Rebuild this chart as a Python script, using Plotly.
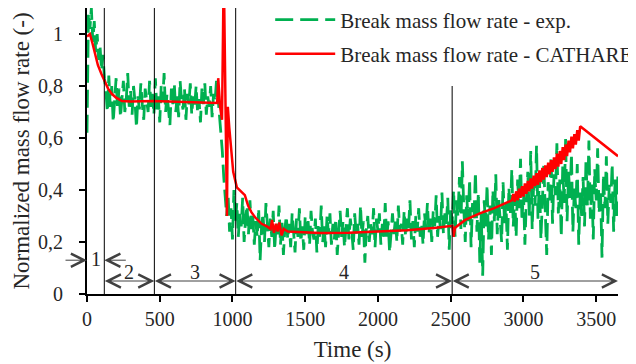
import plotly.graph_objects as go

# ---------------- data ----------------
# experimental break mass flow rate (normalized), sampled every 10 s, per segment
exp_step = 10
exp_seg_starts = [0, 130, 910, 970, 1110, 2510]
exp_seg1 = [0.62, 1.08, 1.02, 1.10, 0.97, 1.05, 0.93, 1.00, 0.90, 0.95, 0.86, 0.92, 0.83]
exp_seg2 = [0.78, 0.70, 0.84, 0.72, 0.80, 0.66, 0.76, 0.83, 0.71, 0.79, 0.68, 0.77, 0.82, 0.70, 0.75,
            0.85, 0.72, 0.78, 0.69, 0.80, 0.74, 0.64, 0.76, 0.71, 0.81, 0.73, 0.67, 0.79, 0.74, 0.70,
            0.82, 0.72, 0.77, 0.69, 0.83, 0.71, 0.76, 0.66, 0.80, 0.74, 0.85, 0.70, 0.77, 0.72, 0.65,
            0.79, 0.73, 0.81, 0.70, 0.76, 0.68, 0.82, 0.74, 0.71, 0.79, 0.67, 0.77, 0.73, 0.81, 0.69,
            0.76, 0.72, 0.80, 0.70, 0.75, 0.66, 0.79, 0.73, 0.81, 0.69, 0.76, 0.72, 0.80, 0.68, 0.77,
            0.74, 0.82, 0.76]
exp_seg3 = [0.70, 0.62, 0.55, 0.45, 0.36, 0.30]
exp_seg4 = [0.38, 0.24, 0.33, 0.21, 0.40, 0.27, 0.35, 0.22, 0.31, 0.26, 0.37, 0.20, 0.29, 0.34]
exp_seg5 = [0.23, 0.36, 0.25, 0.30, 0.19, 0.28, 0.22, 0.33, 0.13, 0.26, 0.31, 0.20, 0.35, 0.24, 0.18,
            0.29, 0.22, 0.32, 0.17, 0.27, 0.23, 0.34, 0.19, 0.28, 0.15, 0.25, 0.30, 0.21, 0.27, 0.18,
            0.31, 0.24, 0.16, 0.29, 0.22, 0.33, 0.20, 0.26, 0.17, 0.30, 0.23, 0.28, 0.19, 0.32, 0.24,
            0.21, 0.29, 0.16, 0.27, 0.22, 0.34, 0.20, 0.26, 0.18, 0.30, 0.23, 0.31, 0.19, 0.27, 0.21,
            0.29, 0.15, 0.25, 0.32, 0.22, 0.28, 0.18, 0.26, 0.33, 0.21, 0.29, 0.24, 0.17, 0.31, 0.23,
            0.27, 0.19, 0.34, 0.22, 0.28, 0.12, 0.25, 0.30, 0.20, 0.27, 0.23, 0.33, 0.18, 0.29, 0.24,
            0.31, 0.19, 0.27, 0.22, 0.35, 0.21, 0.28, 0.16, 0.26, 0.31, 0.23, 0.29, 0.20, 0.34, 0.24,
            0.27, 0.19, 0.32, 0.22, 0.29, 0.25, 0.36, 0.21, 0.28, 0.18, 0.30, 0.24, 0.33, 0.22, 0.27,
            0.19, 0.31, 0.25, 0.35, 0.23, 0.29, 0.20, 0.32, 0.26, 0.38, 0.22, 0.30, 0.25, 0.39, 0.23,
            0.31, 0.27, 0.37, 0.17, 0.33]
exp_seg6 = [0.27, 0.40, 0.22, 0.36, 0.30, 0.45, 0.25, 0.51, 0.33, 0.20, 0.38, 0.28, 0.44, 0.18, 0.35,
            0.29, 0.47, 0.24, 0.39, 0.12, 0.31, 0.07, 0.36, 0.26, 0.42, 0.21, 0.34, 0.15, 0.40, 0.28,
            0.46, 0.23, 0.37, 0.30, 0.20, 0.43, 0.27, 0.35, 0.17, 0.41, 0.31, 0.48, 0.26, 0.38, 0.22,
            0.44, 0.33, 0.52, 0.28, 0.40, 0.19, 0.36, 0.47, 0.30, 0.55, 0.25, 0.42, 0.34, 0.57, 0.29,
            0.45, 0.21, 0.39, 0.50, 0.32, 0.15, 0.43, 0.36, 0.53, 0.27, 0.46, 0.38, 0.58, 0.31, 0.44,
            0.22, 0.49, 0.35, 0.60, 0.28, 0.47, 0.37, 0.54, 0.24, 0.41, 0.33, 0.50, 0.19, 0.39, 0.30,
            0.45, 0.26, 0.52, 0.34, 0.59, 0.29, 0.43, 0.21, 0.48, 0.36, 0.56, 0.31, 0.40, 0.14, 0.46,
            0.33, 0.53, 0.27, 0.42, 0.35, 0.50, 0.24, 0.44, 0.30, 0.47]
exp_segments = [exp_seg1, exp_seg2, exp_seg3, exp_seg4, exp_seg5, exp_seg6]

# CATHARE calculation
cathare_time = [0, 20, 35, 55, 75, 100, 124, 145, 170, 200, 240, 300, 450, 675, 895, 902, 915, 928,
                940, 962, 968, 978, 990, 1005, 1030, 1050, 1070, 1085, 1107, 1130, 1155, 1200, 1237,
                1262, 1272, 1285, 1298, 1310, 1322, 1338, 1352, 1380, 1450, 1600, 1800, 2000, 2200,
                2400, 2500, 2512, 2520, 2530, 2600, 2700, 2800, 2900,
                2920, 2930, 2940, 2950, 2960, 2970, 2980, 2990, 3000, 3010, 3020, 3030, 3040, 3050,
                3060, 3070, 3080, 3090, 3100, 3110, 3120, 3130, 3140, 3150, 3160, 3170, 3180, 3190,
                3200, 3210, 3220, 3230, 3240, 3250, 3260, 3270, 3280, 3290, 3300, 3310, 3320, 3330,
                3340, 3350, 3360, 3370, 3380, 3390, 3650]
cathare_value = [0.99, 1.0, 0.97, 0.925, 0.88, 0.845, 0.815, 0.79, 0.77, 0.755, 0.742, 0.74, 0.742,
                 0.738, 0.735, 0.83, 0.72, 0.67, 1.25, 0.30, 0.72, 0.64, 0.56, 0.47, 0.41, 0.40, 0.39,
                 0.38, 0.34, 0.315, 0.295, 0.27, 0.26, 0.25, 0.285, 0.235, 0.27, 0.24, 0.275, 0.225,
                 0.25, 0.24, 0.238, 0.235, 0.236, 0.24, 0.245, 0.255, 0.26, 0.262, 0.22, 0.255, 0.285,
                 0.31, 0.33, 0.355,
                 0.36, 0.385, 0.355, 0.395, 0.36, 0.405, 0.37, 0.415, 0.375, 0.425, 0.385, 0.435,
                 0.395, 0.445, 0.405, 0.455, 0.415, 0.465, 0.42, 0.475, 0.43, 0.485, 0.44, 0.495,
                 0.45, 0.505, 0.46, 0.515, 0.47, 0.525, 0.48, 0.54, 0.49, 0.55, 0.50, 0.565, 0.515,
                 0.575, 0.53, 0.59, 0.545, 0.605, 0.56, 0.615, 0.575, 0.63, 0.59, 0.645, 0.53]

# test phases
phase_bounds = [0, 119, 463, 1022, 2510, 3650]
phase_labels = ["1", "2", "3", "4", "5"]
phase_line_tops = [1.1, 1.1, 1.1, 0.8]

# ---------------- figure ----------------
FONT = "Liberation Serif, Times New Roman, serif"
TXT = "#262626"

exp_time, exp_value = [], []
for start, vals in zip(exp_seg_starts, exp_segments):
    for i, v in enumerate(vals):
        exp_time.append(start + exp_step * i)
        exp_value.append(v)

fig = go.Figure()
fig.add_trace(go.Scatter(
    x=exp_time, y=exp_value, mode="lines", name="Break mass flow rate - exp.",
    line=dict(color="#00B050", width=2.8, dash="18px,7px"), legendgroup="a",
))
fig.add_trace(go.Scatter(
    x=cathare_time, y=cathare_value, mode="lines", name="Break mass flow rate - CATHARE",
    line=dict(color="#FF0000", width=2.5), legendgroup="b",
))

# phase boundary lines
for b, top in zip(phase_bounds[1:5], phase_line_tops):
    fig.add_shape(type="line", xref="x", yref="y", x0=b, x1=b, y0=0, y1=top,
                  line=dict(color="#000000", width=1), layer="above")

arrow_common = dict(text="", showarrow=True, arrowcolor="#404040", arrowwidth=1,
                    arrowhead=5, arrowsize=2.6, font=dict(size=1), borderpad=0)

# phase 1: arrows pointing inwards from outside
fig.add_annotation(x=phase_bounds[0], y=0.13, xref="x", yref="y", ax=-22, ay=0, **arrow_common)
fig.add_annotation(x=phase_bounds[1], y=0.13, xref="x", yref="y", ax=22, ay=0, **arrow_common)
fig.add_annotation(x=(phase_bounds[0] + phase_bounds[1]) / 2, y=0.135, xref="x", yref="y",
                   text=phase_labels[0], showarrow=False,
                   font=dict(family=FONT, size=20, color=TXT))

# phases 2..5: double arrows
for k in range(1, 5):
    x0, x1 = phase_bounds[k], phase_bounds[k + 1]
    fig.add_annotation(x=x1, y=0.05, ax=x0, ay=0.05, xref="x", yref="y", axref="x", ayref="y",
                       arrowside="end+start", startarrowhead=5, startarrowsize=2.6,
                       **arrow_common)
    fig.add_annotation(x=(x0 + x1) / 2, y=0.085, xref="x", yref="y", text=phase_labels[k],
                       showarrow=False, font=dict(family=FONT, size=20, color=TXT))

# the page body adds an 8 px offset; the figure is sized so the plot lands where the reference has it
fig.update_layout(
    width=628, height=356,
    margin=dict(l=79, r=18, t=0, b=70, autoexpand=False),
    paper_bgcolor="white", plot_bgcolor="white",
    font=dict(family=FONT, size=20, color=TXT),
    separators=", ",
    showlegend=True,
    legend=dict(x=0.345, y=1.03, xanchor="left", yanchor="top", bgcolor="rgba(0,0,0,0)",
                font=dict(family=FONT, size=21, color=TXT), traceorder="grouped",
                tracegroupgap=4, itemwidth=60),
    xaxis=dict(range=[0, 3650], tickvals=[0, 500, 1000, 1500, 2000, 2500, 3000, 3500],
               automargin=False,
               showgrid=False, zeroline=False, showline=True, linecolor="#000000", linewidth=2,
               ticks="outside", ticklen=6, tickwidth=2, tickcolor="#000000",
               tickfont=dict(family=FONT, size=20, color=TXT),
               title=dict(text="Time (s)", font=dict(family=FONT, size=23, color=TXT), standoff=12)),
    yaxis=dict(range=[0, 1.1], tickvals=[0, 0.2, 0.4, 0.6, 0.8, 1],
               automargin=False,
               showgrid=False, zeroline=False, showline=True, linecolor="#000000", linewidth=2,
               ticks="outside", ticklen=6, tickwidth=2, tickcolor="#000000",
               ticklabelstandoff=12,
               tickfont=dict(family=FONT, size=20, color=TXT),
               title=dict(text="Normalized mass flow rate (-)",
                          font=dict(family=FONT, size=23, color=TXT), standoff=2)),
)

fig.write_html("out.html")
